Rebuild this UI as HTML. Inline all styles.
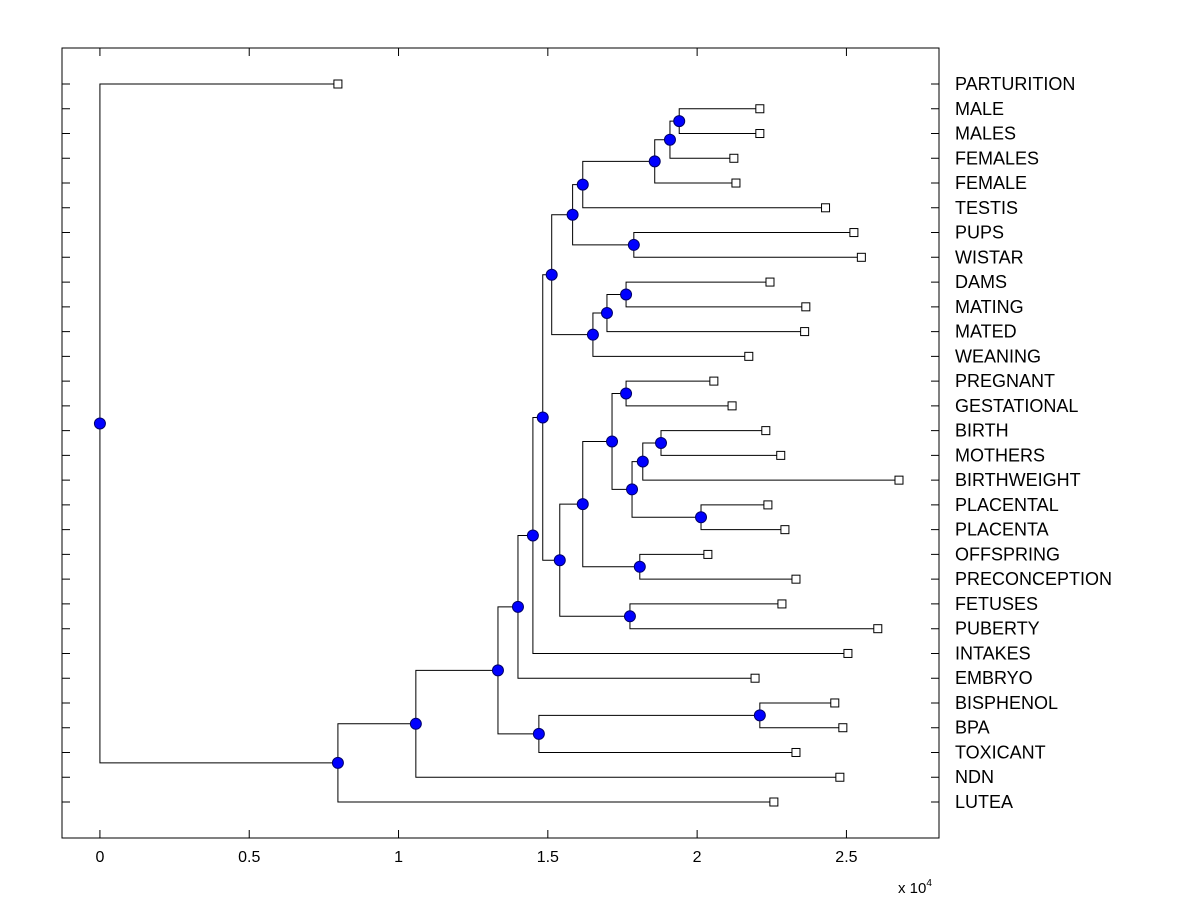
<!DOCTYPE html>
<html><head><meta charset="utf-8"><style>
html,body{margin:0;padding:0;background:#fff;}
svg text{font-family:"Liberation Sans",Arial,sans-serif;}
</style></head><body>
<svg id="chart" width="1200" height="900" viewBox="0 0 1200 900" xmlns="http://www.w3.org/2000/svg">
<rect x="0" y="0" width="1200" height="900" fill="#fff"/>
<g id="g-lines"></g>
<g id="g-marks"></g>
<g id="g-axes"></g>
</svg>
<script>
const leafNames = ["PARTURITION","MALE","MALES","FEMALES","FEMALE","TESTIS","PUPS","WISTAR","DAMS","MATING","MATED","WEANING","PREGNANT","GESTATIONAL","BIRTH","MOTHERS","BIRTHWEIGHT","PLACENTAL","PLACENTA","OFFSPRING","PRECONCEPTION","FETUSES","PUBERTY","INTAKES","EMBRYO","BISPHENOL","BPA","TOXICANT","NDN","LUTEA"];
const leafValues = [0.797,2.21,2.21,2.123,2.13,2.43,2.525,2.55,2.244,2.364,2.36,2.173,2.056,2.117,2.23,2.28,2.676,2.237,2.294,2.036,2.331,2.284,2.605,2.505,2.194,2.461,2.488,2.331,2.478,2.257];
const mergeLeft  = [1,30,31,6,32,34,8,36,37,35,12,14,41,17,42,40,19,45,21,47,39,50,51,25,53,52,55,56,0];
const mergeRight = [2,3,4,7,5,33,9,10,11,38,13,15,16,18,43,44,20,46,22,48,49,23,24,26,27,54,28,29,57];
const mergeHeight= [1.94,1.909,1.858,1.788,1.617,1.583,1.762,1.698,1.651,1.513,1.762,1.879,1.818,2.013,1.782,1.715,1.808,1.617,1.775,1.54,1.483,1.45,1.40,2.21,1.47,1.333,1.058,0.797,0];
const xTicks = [0,0.5,1,1.5,2,2.5];
const xTickLabels = ["0","0.5","1","1.5","2","2.5"];

const NS="http://www.w3.org/2000/svg";
const L=62,R=939,T=48,B=838;
const xMin=-0.127,xMax=2.81;
function xs(v){return L+(v-xMin)/(xMax-xMin)*(R-L);}
function ys(i){return 84+i*(802-84)/(leafNames.length-1);}
function mk(tag,attrs,parent){const e=document.createElementNS(NS,tag);for(const k in attrs)e.setAttribute(k,attrs[k]);parent.appendChild(e);return e;}
const gl=document.getElementById('g-lines'),gm=document.getElementById('g-marks'),ga=document.getElementById('g-axes');

const nx=[],ny=[];
leafValues.forEach((v,i)=>{nx.push(v);ny.push(ys(i));});
mergeHeight.forEach((h,k)=>{const a=mergeLeft[k],b=mergeRight[k];nx.push(h);ny.push((ny[a]+ny[b])/2);});
mergeHeight.forEach((h,k)=>{
  const a=mergeLeft[k],b=mergeRight[k];const X=xs(h);
  const p=mk('path',{d:`M${xs(nx[a])},${ny[a]}H${X}V${ny[b]}H${xs(nx[b])}`,fill:'none',stroke:'#000','stroke-width':1},gl);
  
  
});
mergeHeight.forEach((h,k)=>{
  const c=mk('circle',{cx:xs(h),cy:ny[leafNames.length+k],r:5.5,fill:'#0000ff',stroke:'#00006a','stroke-width':1},gm);
  
  
});
leafValues.forEach((v,i)=>{
  const r=mk('rect',{x:xs(v)-4,y:ys(i)-4,width:8,height:8,fill:'#fff',stroke:'#000','stroke-width':1},gm);
  
  
  const t=mk('text',{x:955,y:ys(i)+6,'font-size':18,fill:'#000'},ga);
  t.textContent=leafNames[i];
  
  
  const tk=mk('path',{d:`M${L},${ys(i)}h8M${R},${ys(i)}h-8`,stroke:'#000','stroke-width':1},ga);
  
  
});
const fr=mk('rect',{x:L,y:T,width:R-L,height:B-T,fill:'none',stroke:'#000','stroke-width':1},ga);


xTicks.forEach((v,i)=>{
  const tk=mk('path',{d:`M${xs(v)},${B}v-8M${xs(v)},${T}v8`,stroke:'#000','stroke-width':1},ga);
  
  
  const t=mk('text',{x:xs(v),y:862,'font-size':16,'text-anchor':'middle',fill:'#000'},ga);
  t.textContent=xTickLabels[i];
  
  
});
const ex=mk('text',{x:898,y:893,'font-size':15,fill:'#000'},ga);


ex.innerHTML='x 10<tspan dy="-7" font-size="10">4</tspan>';
</script>
</body></html>
